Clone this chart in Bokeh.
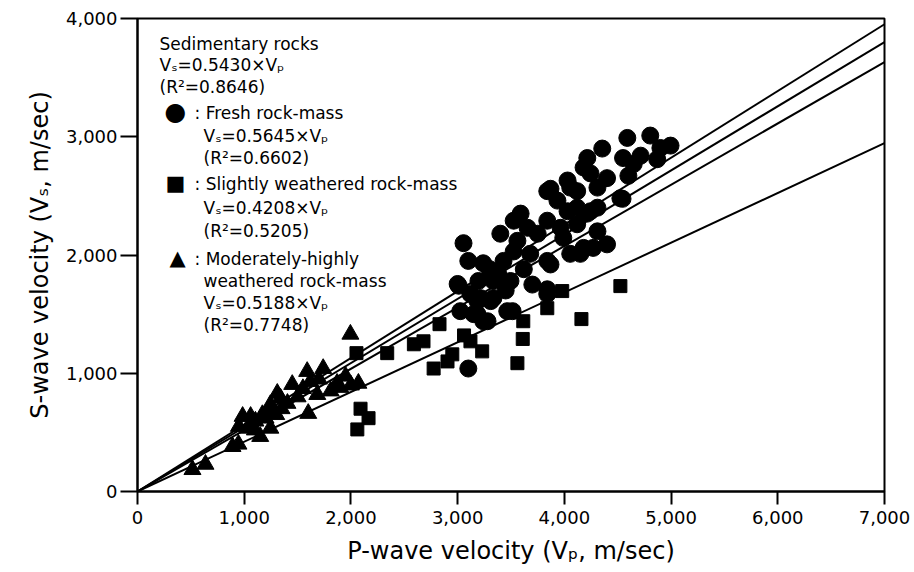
from bokeh.plotting import figure
from bokeh.models import Label, FixedTicker, NumeralTickFormatter
from bokeh.embed import file_html
from bokeh.resources import INLINE

# ---- data ----
fresh_vp = [3055, 3100, 3240, 3000, 3120, 3025, 3150, 3335, 3280, 3465, 3380, 3430,
            3525, 3590, 3655, 3750, 3840, 3560, 3680, 3495, 3840, 4030, 4120, 4215,
            4355, 4245, 4400, 4590, 4805, 4900, 4550, 4650, 4525, 4400, 4270, 4150,
            4055, 3990, 4120, 4215, 4310, 4030, 3935, 3840, 3400, 3525, 3335, 3195,
            3185, 3840, 3100, 3515, 4995, 4870, 4715, 4600, 4545, 4180, 3870, 4055,
            4310, 4180, 3870, 4120, 4245, 3965, 4310, 3840, 3010, 3215, 3310, 3185,
            3240, 3300, 3620, 3700, 3450]
fresh_vs = [2100, 1950, 1930, 1755, 1670, 1525, 1500, 1635, 1440, 1525, 1840, 1950,
            2290, 2350, 2230, 2180, 1950, 2120, 2010, 1780, 2540, 2630, 2540, 2820,
            2900, 2690, 2650, 2990, 3010, 2905, 2820, 2770, 2480, 2090, 2060, 2010,
            2010, 2145, 2260, 2350, 2400, 2370, 2460, 2290, 2180, 2030, 1780, 1780,
            1610, 1710, 1040, 1525, 2925, 2810, 2840, 2670, 2475, 2740, 2560, 2570,
            2570, 2060, 1920, 2400, 2370, 2230, 2200, 1670, 1740, 1635, 1610, 1500,
            1440, 1880, 1880, 1750, 1700]

slight_vp = [2052, 2090, 2165, 2060, 2340, 2590, 2680, 2830, 2775, 2905, 2950, 3120,
             3230, 3615, 3610, 3560, 3840, 3980, 4525, 4160, 3060]
slight_vs = [1170, 700, 620, 525, 1170, 1245, 1270, 1415, 1040, 1100, 1160, 1270,
             1185, 1440, 1290, 1085, 1550, 1695, 1737, 1458, 1320]

mod_vp = [1995, 515, 637, 890, 946, 985, 1060, 1105, 1150, 1170, 1220, 1245, 1310,
          1340, 1450, 1590, 1620, 1600, 1740, 1810, 1870, 1950, 2070, 1685, 1245,
          1030, 1405, 1100, 1200, 1350, 1500, 1550, 1700, 1900, 2000, 1300, 950]
mod_vs = [1330, 185, 230, 380, 400, 635, 635, 595, 465, 650, 680, 735, 830,
          790, 905, 1015, 930, 660, 1040, 850, 915, 975, 915, 820, 535,
          535, 745, 520, 620, 700, 800, 870, 950, 880, 900, 650, 550]

fit_names = ["Sedimentary rocks", "Fresh rock-mass", "Slightly weathered rock-mass",
             "Moderately-highly weathered rock-mass"]
fit_slopes = [0.5430, 0.5645, 0.4208, 0.5188]
fit_r2 = [0.8646, 0.6602, 0.5205, 0.7748]
fit_x = [0, 7000]

x_ticks = [0, 1000, 2000, 3000, 4000, 5000, 6000, 7000]
y_ticks = [0, 1000, 2000, 3000, 4000]

FONT = "DejaVu Sans"

p = figure(width=914, height=572, x_range=(0, 7000), y_range=(0, 4000),
           output_backend="svg", toolbar_location=None,
           min_border_left=137, min_border_right=30, min_border_top=18,
           min_border_bottom=81, background_fill_color="white",
           border_fill_color="white")

p.xgrid.visible = False
p.ygrid.visible = False
p.outline_line_color = "black"
p.outline_line_width = 2
p.outline_line_alpha = 1

for ax in (p.xaxis[0], p.yaxis[0]):
    ax.axis_line_width = 2
    ax.axis_line_color = "black"
    ax.major_tick_line_width = 2
    ax.major_tick_line_color = "black"
    ax.major_tick_in = 0
    ax.minor_tick_line_color = None
    ax.formatter = NumeralTickFormatter(format="0,0")
    ax.major_label_text_font = FONT
    ax.major_label_text_font_size = "18px"
    ax.major_label_text_color = "black"
    ax.axis_label_text_font = FONT
    ax.axis_label_text_font_size = "24px"
    ax.axis_label_text_font_style = "normal"
    ax.axis_label_text_color = "black"

p.xaxis.ticker = FixedTicker(ticks=x_ticks)
p.yaxis.ticker = FixedTicker(ticks=y_ticks)
p.xaxis.major_tick_out = 13
p.yaxis.major_tick_out = 17
p.xaxis.major_label_standoff = 6
p.yaxis.major_label_standoff = 3
p.xaxis.axis_label_standoff = 10
p.yaxis.axis_label_standoff = 9
p.xaxis.axis_label = "P-wave velocity (V\u209a, m/sec)"
p.yaxis.axis_label = "S-wave velocity (V\u209b, m/sec)"

# regression lines
for s in fit_slopes:
    p.line(x=fit_x, y=[s * v for v in fit_x], line_color="black", line_width=2)

# data
p.scatter(x=fresh_vp, y=fresh_vs, marker="circle", size=17,
          fill_color="black", line_color="black")
p.scatter(x=slight_vp, y=slight_vs, marker="square", size=13,
          fill_color="black", line_color="black")
p.scatter(x=mod_vp, y=mod_vs, marker="triangle", size=17,
          fill_color="black", line_color="black")

# annotation text (screen coords relative to frame: left=137, bottom=491)
def lab(px, py, text, size="17px", align="left"):
    p.add_layout(Label(x=px - 137, y=491 - py, x_units="screen", y_units="screen",
                       text=text, text_font=FONT, text_font_size=size,
                       text_color="black", text_baseline="middle", text_align=align))

eq = "V\u209b=%.4f\u00d7V\u209a"
r2 = "(R\u00b2=%.4f)"

lab(159, 43, fit_names[0])
lab(159, 64, eq % fit_slopes[0])
lab(159, 86, r2 % fit_r2[0])

lab(175, 111, "\u25cf", "25px", "center")
lab(194, 112, ": Fresh rock-mass")
lab(203, 135, eq % fit_slopes[1])
lab(203, 157, r2 % fit_r2[1])

lab(175, 182, "\u25a0", "21px", "center")
lab(194, 183, ": Slightly weathered rock-mass")
lab(203, 207, eq % fit_slopes[2])
lab(203, 230, r2 % fit_r2[2])

lab(177, 257, "\u25b2", "21px", "center")
lab(194, 258, ": Moderately-highly")
lab(203, 280, "weathered rock-mass")
lab(203, 302, eq % fit_slopes[3])
lab(203, 324, r2 % fit_r2[3])

open("out.html", "w").write(file_html(p, INLINE))
